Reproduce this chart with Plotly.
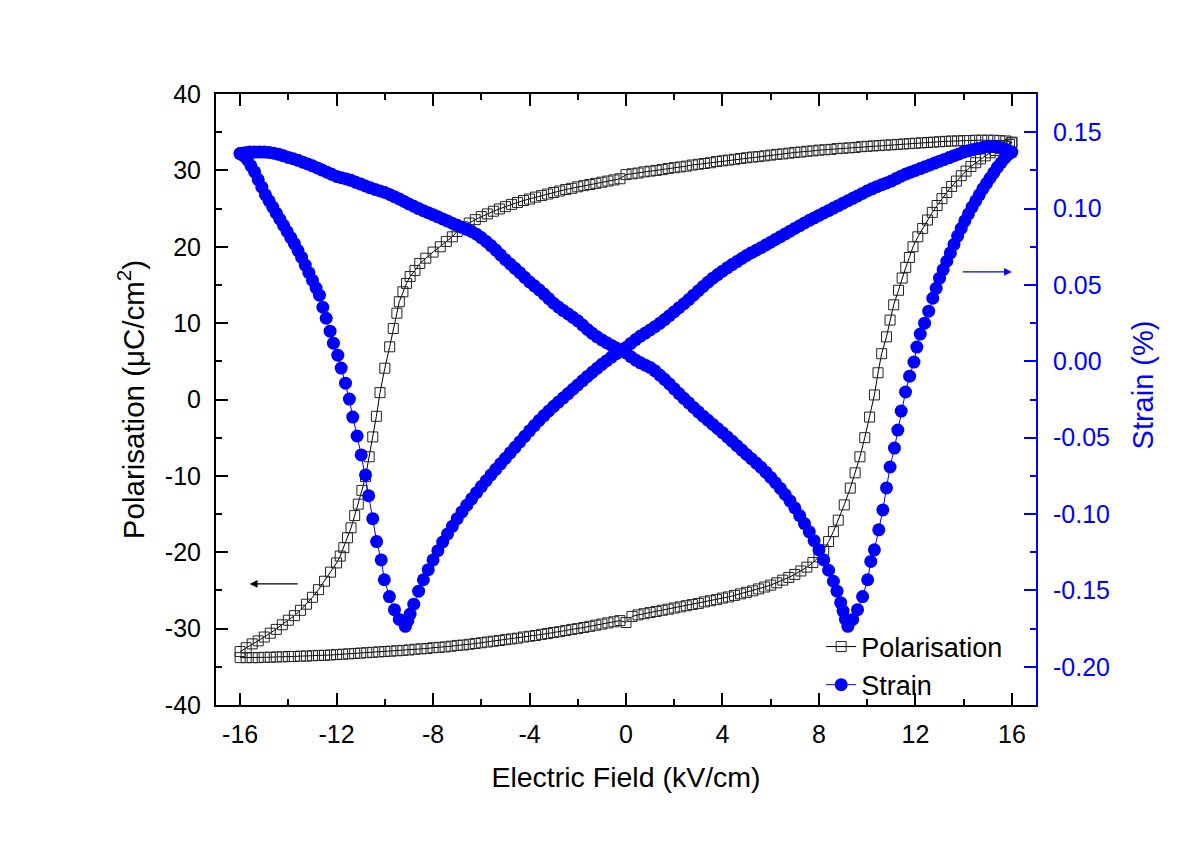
import plotly.graph_objects as go

# ---------------- data ----------------
# Polarisation loop, field rising (-16 -> 16 kV/cm)
pol_up_field = [-16.0, -15.75, -15.5, -15.25, -15.0, -14.75, -14.5, -14.25, -14.0, -13.75,
                -13.5, -13.25, -13.0, -12.75, -12.5, -12.25, -12.0, -11.75, -11.5, -11.25,
                -11.0, -10.75, -10.5, -10.25, -10.0, -9.75, -9.5, -9.25, -9.0, -8.75,
                -8.5, -8.25, -8.0, -7.75, -7.5, -7.25, -7.0, -6.75, -6.5, -6.25,
                -6.0, -5.75, -5.5, -5.25, -5.0, -4.75, -4.5, -4.25, -4.0, -3.75,
                -3.5, -3.25, -3.0, -2.75, -2.5, -2.25, -2.0, -1.75, -1.5, -1.25,
                -1.0, -0.75, -0.5, -0.25, 0.0, 0.25, 0.5, 0.75, 1.0, 1.25,
                1.5, 1.75, 2.0, 2.25, 2.5, 2.75, 3.0, 3.25, 3.5, 3.75,
                4.0, 4.25, 4.5, 4.75, 5.0, 5.25, 5.5, 5.75, 6.0, 6.25,
                6.5, 6.75, 7.0, 7.25, 7.5, 7.75, 8.0, 8.2, 8.4, 8.6,
                8.8, 9.05, 9.3, 9.5, 9.7, 9.9, 10.1, 10.3, 10.45, 10.6,
                10.8, 10.95, 11.1, 11.3, 11.45, 11.6, 11.75, 11.9, 12.1, 12.3,
                12.5, 12.7, 12.9, 13.1, 13.3, 13.5, 13.7, 13.9, 14.1, 14.3,
                14.5, 14.7, 14.9, 15.1, 15.3, 15.5, 15.7, 15.9, 16.0]
pol_up = [-33.8, -33.8, -33.8, -33.8, -33.75, -33.75, -33.7, -33.7, -33.65, -33.65,
          -33.6, -33.6, -33.55, -33.5, -33.5, -33.45, -33.4, -33.35, -33.3, -33.25,
          -33.2, -33.15, -33.1, -33.05, -33.0, -32.95, -32.9, -32.85, -32.8, -32.7,
          -32.65, -32.6, -32.5, -32.45, -32.4, -32.3, -32.2, -32.15, -32.05, -31.95,
          -31.85, -31.75, -31.65, -31.55, -31.45, -31.35, -31.25, -31.1, -31.0, -30.9,
          -30.75, -30.65, -30.5, -30.4, -30.25, -30.1, -30.0, -29.85, -29.7, -29.55,
          -29.4, -29.25, -29.1, -28.95, -29.2, -28.4, -28.2, -28.05, -27.9, -27.75,
          -27.6, -27.45, -27.3, -27.15, -27.0, -26.85, -26.7, -26.5, -26.35, -26.2,
          -26.0, -25.85, -25.65, -25.45, -25.25, -25.05, -24.8, -24.55, -24.3, -24.0,
          -23.65, -23.3, -22.9, -22.45, -21.95, -21.35, -20.6, -19.7, -18.6, -17.3,
          -15.8, -13.8, -11.6, -9.6, -7.5, -5.0, -2.3, 0.6, 3.5, 6.0,
          8.2, 10.4, 12.4, 14.3, 15.9, 17.3, 18.6, 20.0, 21.3, 22.4,
          23.5, 24.5, 25.4, 26.3, 27.1, 27.9, 28.6, 29.3, 29.9, 30.5,
          31.0, 31.5, 31.9, 32.3, 32.6, 32.9, 33.2, 33.4, 33.6]

# Polarisation loop, field falling (16 -> -16 kV/cm)
pol_down_field = [16.0, 15.75, 15.5, 15.25, 15.0, 14.75, 14.5, 14.25, 14.0, 13.75,
                  13.5, 13.25, 13.0, 12.75, 12.5, 12.25, 12.0, 11.75, 11.5, 11.25,
                  11.0, 10.75, 10.5, 10.25, 10.0, 9.75, 9.5, 9.25, 9.0, 8.75,
                  8.5, 8.25, 8.0, 7.75, 7.5, 7.25, 7.0, 6.75, 6.5, 6.25,
                  6.0, 5.75, 5.5, 5.25, 5.0, 4.75, 4.5, 4.25, 4.0, 3.75,
                  3.5, 3.25, 3.0, 2.75, 2.5, 2.25, 2.0, 1.75, 1.5, 1.25,
                  1.0, 0.75, 0.5, 0.25, 0.0, -0.25, -0.5, -0.75, -1.0, -1.25,
                  -1.5, -1.75, -2.0, -2.25, -2.5, -2.75, -3.0, -3.25, -3.5, -3.75,
                  -4.0, -4.25, -4.5, -4.75, -5.0, -5.25, -5.5, -5.75, -6.0, -6.25,
                  -6.5, -6.75, -7.0, -7.2, -7.45, -7.7, -8.0, -8.3, -8.55, -8.75,
                  -8.95, -9.1, -9.25, -9.4, -9.5, -9.65, -9.8, -10.0, -10.2, -10.35,
                  -10.5, -10.65, -10.8, -10.95, -11.1, -11.25, -11.4, -11.55, -11.7, -11.85,
                  -12.0, -12.25, -12.5, -12.75, -13.0, -13.25, -13.5, -13.75, -14.0, -14.25,
                  -14.5, -14.75, -15.0, -15.25, -15.5, -15.75, -16.0]
pol_down = [33.7, 33.85, 33.9, 33.95, 33.95, 33.95, 33.95, 33.9, 33.9, 33.85,
            33.85, 33.8, 33.75, 33.7, 33.65, 33.6, 33.55, 33.5, 33.45, 33.4,
            33.35, 33.3, 33.25, 33.2, 33.15, 33.1, 33.0, 32.95, 32.9, 32.85,
            32.75, 32.7, 32.65, 32.55, 32.5, 32.4, 32.35, 32.25, 32.15, 32.1,
            32.0, 31.9, 31.8, 31.75, 31.65, 31.55, 31.45, 31.35, 31.25, 31.15,
            31.0, 30.9, 30.8, 30.7, 30.55, 30.45, 30.35, 30.25, 30.1, 30.0,
            29.9, 29.8, 29.65, 29.55, 29.45, 28.9, 28.75, 28.6, 28.45, 28.3,
            28.15, 28.0, 27.85, 27.65, 27.5, 27.3, 27.1, 26.9, 26.7, 26.5,
            26.25, 26.05, 25.8, 25.55, 25.25, 24.95, 24.65, 24.3, 23.95, 23.55,
            23.1, 22.6, 22.0, 21.3, 20.7, 20.0, 19.3, 18.5, 17.8, 16.9,
            16.1, 15.2, 14.1, 12.8, 11.3, 9.3, 6.9, 4.1, 0.9, -2.2,
            -4.9, -7.5, -10.1, -11.9, -13.7, -15.2, -16.8, -18.1, -19.4, -20.5,
            -21.4, -22.6, -23.8, -24.9, -25.9, -26.8, -27.6, -28.3, -28.9, -29.5,
            -30.1, -30.6, -31.1, -31.6, -32.0, -32.5, -33.0]

# Strain loop, field rising (-16 -> 16 kV/cm)
strain_up_field = [-16.0, -15.8, -15.6, -15.4, -15.2, -15.0, -14.8, -14.6, -14.4, -14.2,
                   -14.0, -13.8, -13.6, -13.4, -13.2, -13.0, -12.8, -12.6, -12.4, -12.2,
                   -12.0, -11.8, -11.6, -11.4, -11.2, -11.0, -10.8, -10.6, -10.4, -10.2,
                   -10.0, -9.8, -9.6, -9.4, -9.2, -9.0, -8.8, -8.6, -8.4, -8.2,
                   -8.0, -7.8, -7.6, -7.4, -7.2, -7.0, -6.8, -6.6, -6.4, -6.2,
                   -6.0, -5.8, -5.6, -5.4, -5.2, -5.0, -4.8, -4.6, -4.4, -4.2,
                   -4.0, -3.8, -3.6, -3.4, -3.2, -3.0, -2.8, -2.6, -2.4, -2.2,
                   -2.0, -1.8, -1.6, -1.4, -1.2, -1.0, -0.8, -0.6, -0.4, -0.2,
                   0.0, 0.2, 0.4, 0.6, 0.8, 1.0, 1.2, 1.4, 1.6, 1.8,
                   2.0, 2.2, 2.4, 2.6, 2.8, 3.0, 3.2, 3.4, 3.6, 3.8,
                   4.0, 4.2, 4.4, 4.6, 4.8, 5.0, 5.2, 5.4, 5.6, 5.8,
                   6.0, 6.2, 6.4, 6.6, 6.8, 7.0, 7.2, 7.4, 7.6, 7.8,
                   8.0, 8.2, 8.4, 8.6, 8.75, 8.9, 9.0, 9.1, 9.2, 9.4,
                   9.6, 9.81, 10.02, 10.15, 10.3, 10.48, 10.65, 10.8, 10.95, 11.13,
                   11.27, 11.41, 11.59, 11.76, 11.94, 12.06, 12.2, 12.38, 12.55, 12.72,
                   12.86, 13.0, 13.15, 13.3, 13.45, 13.6, 13.75, 13.9, 14.05, 14.2,
                   14.35, 14.5, 14.65, 14.8, 14.95, 15.1, 15.25, 15.4, 15.55, 15.7,
                   15.85, 16.0]
strain_up = [0.1360, 0.1365, 0.1370, 0.1370, 0.1370, 0.1370, 0.1367, 0.1362, 0.1355, 0.1345,
             0.1335, 0.1326, 0.1316, 0.1304, 0.1292, 0.1280, 0.1266, 0.1252, 0.1238, 0.1224,
             0.1210, 0.1202, 0.1194, 0.1185, 0.1172, 0.1160, 0.1148, 0.1136, 0.1125, 0.1115,
             0.1105, 0.1092, 0.1078, 0.1063, 0.1047, 0.1030, 0.1015, 0.1000, 0.0986, 0.0973,
             0.0960, 0.0946, 0.0932, 0.0918, 0.0904, 0.0890, 0.0877, 0.0864, 0.0850, 0.0832,
             0.0810, 0.0785, 0.0758, 0.0728, 0.0697, 0.0665, 0.0637, 0.0609, 0.0580, 0.0550,
             0.0520, 0.0494, 0.0468, 0.0440, 0.0410, 0.0380, 0.0355, 0.0332, 0.0310, 0.0288,
             0.0265, 0.0237, 0.0209, 0.0183, 0.0160, 0.0140, 0.0122, 0.0104, 0.0087, 0.0071,
             0.0055, 0.0030, 0.0008, -0.0010, -0.0025, -0.0040, -0.0062, -0.0090, -0.0118, -0.0148,
             -0.0180, -0.0211, -0.0242, -0.0272, -0.0302, -0.0331, -0.0359, -0.0386, -0.0413, -0.0440,
             -0.0467, -0.0495, -0.0523, -0.0552, -0.0581, -0.0610, -0.0638, -0.0666, -0.0695, -0.0726,
             -0.0760, -0.0795, -0.0832, -0.0872, -0.0914, -0.0960, -0.1010, -0.1062, -0.1116, -0.1174,
             -0.1235, -0.1300, -0.1368, -0.1440, -0.1505, -0.1580, -0.1635, -0.1690, -0.1735, -0.1690,
             -0.1626, -0.1540, -0.1430, -0.1310, -0.1234, -0.1103, -0.0973, -0.0829, -0.0692, -0.0568,
             -0.0450, -0.0326, -0.0201, -0.0097, -0.0005, 0.0093, 0.0178, 0.0250, 0.0328, 0.0413,
             0.0478, 0.0544, 0.0600, 0.0655, 0.0710, 0.0765, 0.0820, 0.0870, 0.0920, 0.0965,
             0.1010, 0.1050, 0.1090, 0.1130, 0.1165, 0.1200, 0.1235, 0.1270, 0.1300, 0.1330,
             0.1355, 0.1370]

# Strain loop, field falling (16 -> -16 kV/cm)
strain_down_field = [15.8, 15.6, 15.4, 15.2, 15.0, 14.8, 14.6, 14.4, 14.2,
                     14.0, 13.8, 13.6, 13.4, 13.2, 13.0, 12.8, 12.6, 12.4, 12.2,
                     12.0, 11.8, 11.6, 11.4, 11.2, 11.0, 10.8, 10.6, 10.4, 10.2,
                     10.0, 9.8, 9.6, 9.4, 9.2, 9.0, 8.8, 8.6, 8.4, 8.2,
                     8.0, 7.8, 7.6, 7.4, 7.2, 7.0, 6.8, 6.6, 6.4, 6.2,
                     6.0, 5.8, 5.6, 5.4, 5.2, 5.0, 4.8, 4.6, 4.4, 4.2,
                     4.0, 3.8, 3.6, 3.4, 3.2, 3.0, 2.8, 2.6, 2.4, 2.2,
                     2.0, 1.8, 1.6, 1.4, 1.2, 1.0, 0.8, 0.6, 0.4, 0.2,
                     0.0, -0.2, -0.4, -0.6, -0.8, -1.0, -1.2, -1.4, -1.6, -1.8,
                     -2.0, -2.2, -2.4, -2.6, -2.8, -3.0, -3.2, -3.4, -3.6, -3.8,
                     -4.0, -4.2, -4.4, -4.6, -4.8, -5.0, -5.2, -5.4, -5.6, -5.8,
                     -6.0, -6.2, -6.4, -6.6, -6.8, -7.0, -7.2, -7.4, -7.6, -7.8,
                     -8.0, -8.2, -8.4, -8.6, -8.8, -8.95, -9.05, -9.15, -9.4, -9.6,
                     -9.81, -10.02, -10.15, -10.34, -10.5, -10.67, -10.8, -10.98, -11.15, -11.33,
                     -11.47, -11.63, -11.81, -11.95, -12.13, -12.27, -12.43, -12.57, -12.71, -12.85,
                     -13.0, -13.15, -13.3, -13.45, -13.6, -13.75, -13.9, -14.05, -14.2, -14.35,
                     -14.5, -14.65, -14.8, -14.95, -15.1, -15.25, -15.4, -15.55, -15.7, -15.85,
                     -16.0]
strain_down = [0.1385, 0.1397, 0.1403, 0.1406, 0.1405, 0.1400, 0.1393, 0.1386, 0.1378,
               0.1370, 0.1358, 0.1346, 0.1334, 0.1322, 0.1310, 0.1298, 0.1286, 0.1274, 0.1262,
               0.1250, 0.1238, 0.1226, 0.1212, 0.1196, 0.1180, 0.1168, 0.1156, 0.1143, 0.1129,
               0.1115, 0.1099, 0.1083, 0.1067, 0.1051, 0.1035, 0.1019, 0.1003, 0.0987, 0.0971,
               0.0955, 0.0939, 0.0923, 0.0906, 0.0888, 0.0870, 0.0852, 0.0834, 0.0816, 0.0798,
               0.0780, 0.0762, 0.0744, 0.0727, 0.0711, 0.0693, 0.0673, 0.0653, 0.0633, 0.0612,
               0.0590, 0.0568, 0.0544, 0.0518, 0.0490, 0.0462, 0.0433, 0.0404, 0.0377, 0.0351,
               0.0325, 0.0299, 0.0273, 0.0249, 0.0227, 0.0205, 0.0185, 0.0165, 0.0142, 0.0117,
               0.0090, 0.0070, 0.0050, 0.0028, 0.0004, -0.0020, -0.0046, -0.0072, -0.0099, -0.0127,
               -0.0155, -0.0183, -0.0211, -0.0239, -0.0267, -0.0295, -0.0325, -0.0355, -0.0387, -0.0421,
               -0.0455, -0.0491, -0.0527, -0.0563, -0.0599, -0.0635, -0.0671, -0.0707, -0.0744, -0.0782,
               -0.0820, -0.0860, -0.0900, -0.0942, -0.0986, -0.1030, -0.1080, -0.1130, -0.1183, -0.1240,
               -0.1300, -0.1364, -0.1430, -0.1505, -0.1590, -0.1655, -0.1700, -0.1735, -0.1690, -0.1626,
               -0.1540, -0.1430, -0.1300, -0.1180, -0.1030, -0.0880, -0.0744, -0.0613, -0.0489, -0.0365,
               -0.0247, -0.0143, -0.0044, 0.0040, 0.0119, 0.0197, 0.0282, 0.0354, 0.0433, 0.0480,
               0.0530, 0.0580, 0.0630, 0.0680, 0.0725, 0.0770, 0.0810, 0.0850, 0.0890, 0.0930,
               0.0970, 0.1010, 0.1050, 0.1090, 0.1140, 0.1190, 0.1240, 0.1280, 0.1320, 0.1345,
               0.1360]

# axis ticks
x_ticks = [-16, -12, -8, -4, 0, 4, 8, 12, 16]
x_tick_text = ["-16", "-12", "-8", "-4", "0", "4", "8", "12", "16"]
x_minor = [-14, -10, -6, -2, 2, 6, 10, 14]
p_ticks = [-40, -30, -20, -10, 0, 10, 20, 30, 40]
p_tick_text = ["-40", "-30", "-20", "-10", "0", "10", "20", "30", "40"]
p_minor = [-35, -25, -15, -5, 5, 15, 25, 35]
s_ticks = [-0.20, -0.15, -0.10, -0.05, 0.0, 0.05, 0.10, 0.15]
s_tick_text = ["-0.20", "-0.15", "-0.10", "-0.05", "0.00", "0.05", "0.10", "0.15"]
s_minor = [-0.175, -0.125, -0.075, -0.025, 0.025, 0.075, 0.125]

# arrows: (tail field, head field, polarisation level)
arrow_pol = (-13.55, -15.6, -24.15)
arrow_strain = (13.9, 16.0, 16.7)

BLUE = "#0000FF"
FONT = "Liberation Sans, Arial, sans-serif"

fig = go.Figure()
fig.add_trace(go.Scatter(
    x=pol_up_field + pol_down_field, y=pol_up + pol_down,
    mode="lines+markers", name="Polarisation",
    line=dict(color="black", width=1),
    marker=dict(symbol="square-open", size=10, color="#222222", line=dict(width=1)),
    yaxis="y"))
fig.add_trace(go.Scatter(
    x=strain_up_field + strain_down_field, y=strain_up + strain_down,
    mode="lines+markers", name="Strain",
    line=dict(color=BLUE, width=1),
    marker=dict(symbol="circle", size=13, color=BLUE),
    yaxis="y2"))

for tail, head, lvl, col in [(arrow_pol[0], arrow_pol[1], arrow_pol[2], "black"),
                             (arrow_strain[0], arrow_strain[1], arrow_strain[2], BLUE)]:
    fig.add_annotation(x=head, y=lvl, ax=tail, ay=lvl, xref="x", yref="y",
                       axref="x", ayref="y", text="", showarrow=True,
                       arrowhead=2, arrowsize=1.2, arrowwidth=1.3, arrowcolor=col)

# right-axis title placed as text beside the blue axis
fig.add_annotation(text="Strain (%)", xref="paper", yref="paper", x=1.1305, y=0.523,
                   showarrow=False, textangle=-90, font=dict(size=29, color=BLUE),
                   xanchor="center", yanchor="middle")

fig.update_layout(
    width=1200, height=847,
    margin=dict(l=216, r=164, t=94, b=142),
    paper_bgcolor="white", plot_bgcolor="white",
    font=dict(family=FONT, size=25, color="black"),
    showlegend=True,
    legend=dict(x=0.738, y=0.135, xanchor="left", yanchor="top",
                bgcolor="rgba(0,0,0,0)", font=dict(size=27), tracegroupgap=0),
    xaxis=dict(range=[-17, 17], tickvals=x_ticks, ticktext=x_tick_text,
               ticks="inside", ticklen=12, tickwidth=1.5, tickcolor="black",
               showline=True, linewidth=2, linecolor="black", mirror="ticks",
               showgrid=False, zeroline=False,
               minor=dict(tickvals=x_minor, ticks="inside", ticklen=6, tickwidth=1.5, tickcolor="black"),
               tickfont=dict(size=25), ticklabelstandoff=6,
               title=dict(text="Electric Field (kV/cm)", font=dict(size=28.5), standoff=20)),
    yaxis=dict(range=[-40, 40], tickvals=p_ticks, ticktext=p_tick_text,
               ticks="inside", ticklen=12, tickwidth=1.5, tickcolor="black",
               showline=True, linewidth=2, linecolor="black",
               showgrid=False, zeroline=False,
               minor=dict(tickvals=p_minor, ticks="inside", ticklen=6, tickwidth=1.5, tickcolor="black"),
               tickfont=dict(size=25), ticklabelstandoff=8,
               title=dict(text="Polarisation (μC/cm<sup>2</sup>)", font=dict(size=29.5), standoff=12)),
    yaxis2=dict(range=[-0.225, 0.175], tickvals=s_ticks, ticktext=s_tick_text,
                overlaying="y", side="right",
                ticks="inside", ticklen=12, tickwidth=1.5, tickcolor=BLUE,
                showline=True, linewidth=2, linecolor=BLUE,
                showgrid=False, zeroline=False,
                minor=dict(tickvals=s_minor, ticks="inside", ticklen=6, tickwidth=1.5, tickcolor=BLUE),
                tickfont=dict(size=25, color=BLUE), ticklabelstandoff=10),
)

fig.write_html("out.html")
